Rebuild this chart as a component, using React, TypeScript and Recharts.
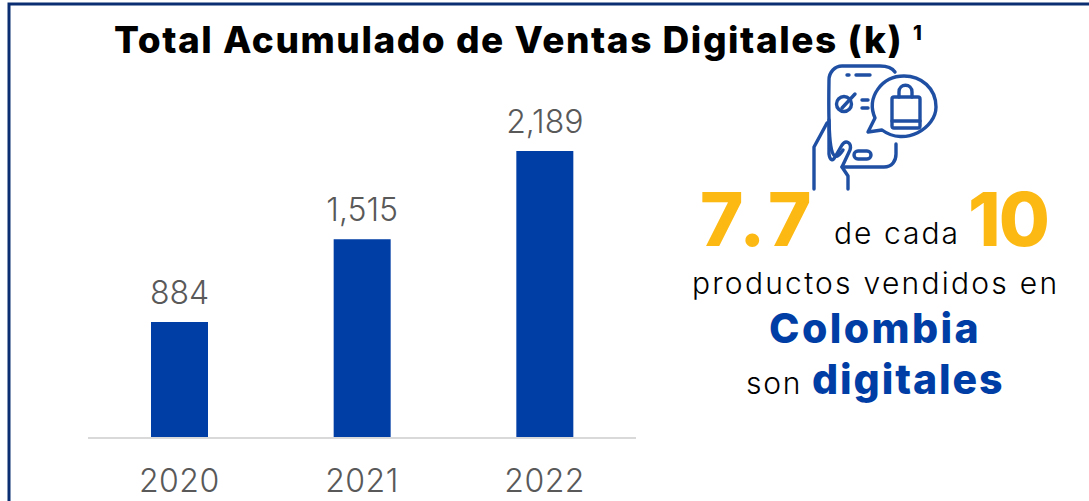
import { BarChart, Bar, XAxis, YAxis, LabelList } from "recharts";

const years = ["2020", "2021", "2022"];
const ventas = [884, 1515, 2189];

const BLUE = "#003da5";
const GOLD = "#fdb913";
const FONT = "Inter, 'Noto Sans', sans-serif";

const data = years.map((year, i) => ({ year, ventas: ventas[i] }));

// Label in the slide's thousands format
const fmt = (v: any) => Number(v).toLocaleString("en-US");

function Txt({ x, y, size, weight = 400, color = "#000", spacing = 0, children }: any) {
  return (
    <text x={x} y={y} fontSize={size} fontWeight={weight} fill={color} letterSpacing={spacing} fontFamily={FONT}>
      {children}
    </text>
  );
}

// Phone + shopping bag pictogram
function Icon() {
  return (
    <g fill="none" stroke="#1f4fa3" strokeWidth={3.4} strokeLinecap="round" strokeLinejoin="round" transform="translate(780 50)">
      <path d="M63 100 C50 120 48 92 49 30 C49 22 55 16 62 16 L100 16 C108 16 113 19 115 22" />
      <path d="M47 73 L34 97 L34 139" />
      <path d="M49 70 L49 104 C50 111 53 111 55 107 L62 95 C66 89 72 93 70 100 L62 117 L68 126 L68 139" />
      <path d="M62 117 L104 117 C112 117 116 111 116 104 L116 94" />
      <rect x="74" y="101" width="17" height="8" rx="4" />
      <path d="M67 25 L69 25 M76 25 L90 25" />
      <circle cx="64" cy="54" r="7.5" />
      <path d="M62 58 L75 44 M82 50 L88 50 M82 58 L88 58" />
      <path d="M88 82 L102 80 C125 97 156 78 156 57 C156 38 141 26 124 26 C102 26 86 47 95 68 Z" />
      <rect x="112" y="47" width="28" height="31" rx="2" />
      <path d="M119 47 L119 42 C119 33 132 33 132 42 L132 47 M112 71 L140 71" />
    </g>
  );
}

export default function App() {
  return (
    <div style={{ position: "absolute", left: 0, top: 0, width: 1089, height: 501, background: "#fff", overflow: "hidden" }}>
      <BarChart width={1089} height={501} data={data} margin={{ top: 151, right: 453, bottom: 0, left: 88 }} barCategoryGap={0}>
        <XAxis
          dataKey="year"
          height={63}
          tickLine={false}
          axisLine={{ stroke: "#d9d9d9", strokeWidth: 2 }}
          tick={{ fill: "#595959", fontSize: 32, fontWeight: 300, fontFamily: FONT, letterSpacing: 0.5 }}
          tickMargin={25}
        />
        <YAxis hide domain={[0, 2189]} />
        <Bar dataKey="ventas" fill={BLUE} barSize={57} isAnimationActive={false}>
          <LabelList dataKey="ventas" position="top" offset={18} formatter={fmt} fill="#595959" fontSize={32} fontWeight={300} fontFamily={FONT} />
        </Bar>
      </BarChart>

      <svg width={1089} height={501} style={{ position: "absolute", left: 0, top: 0 }}>
        <path d="M9 501 L9 4 L1089 4" fill="none" stroke="#0b2e73" strokeWidth={3} />
        <Txt x={114} y={53} size={37} weight={800} spacing={1.55}>Total Acumulado de Ventas Digitales (k)</Txt>
        <Txt x={913} y={40} size={20} weight={800}>1</Txt>
        <Icon />
        <Txt x={700} y={246} size={74} weight={800} color={GOLD} spacing={5}>7.7</Txt>
        <Txt x={834} y={244} size={30} weight={300} spacing={2}>de cada</Txt>
        <Txt x={968} y={246} size={74} weight={800} color={GOLD} spacing={-2}>10</Txt>
        <Txt x={692} y={294} size={30} weight={300} spacing={2.25}>productos vendidos en</Txt>
        <Txt x={769} y={343} size={41} weight={800} color={BLUE} spacing={2.4}>Colombia</Txt>
        <Txt x={746} y={394} size={30} weight={300} spacing={1.7}>son</Txt>
        <Txt x={812} y={394} size={41} weight={800} color={BLUE} spacing={1.9}>digitales</Txt>
      </svg>
    </div>
  );
}
